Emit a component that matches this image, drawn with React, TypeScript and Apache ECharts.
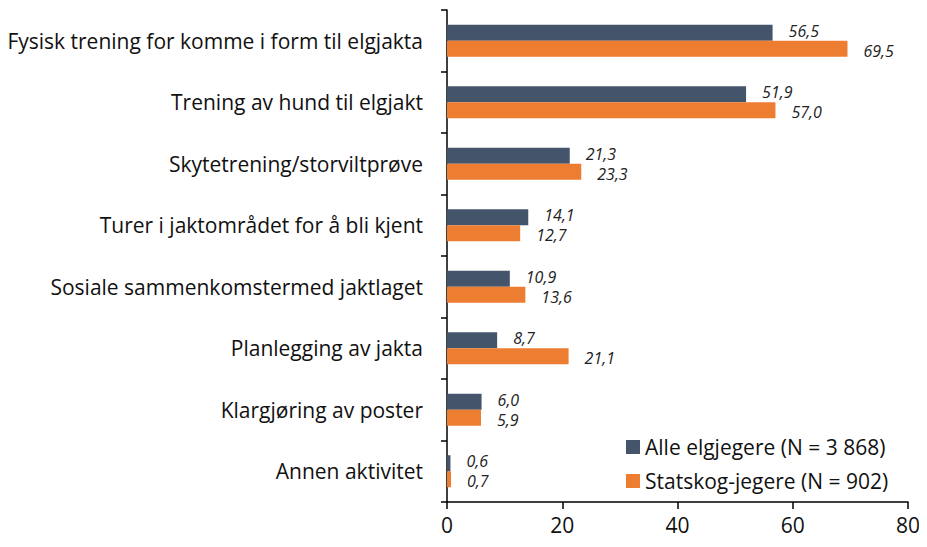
import React, { useEffect, useRef } from "react";
import * as echarts from "echarts";

const categories = [
  "Fysisk trening for komme i form til elgjakta",
  "Trening av hund til elgjakt",
  "Skytetrening/storviltprøve",
  "Turer i jaktområdet for å bli kjent",
  "Sosiale sammenkomstermed jaktlaget",
  "Planlegging av jakta",
  "Klargjøring av poster",
  "Annen aktivitet",
];
const alleValues = [56.5, 51.9, 21.3, 14.1, 10.9, 8.7, 6.0, 0.6];
const statskogValues = [69.5, 57.0, 23.3, 12.7, 13.6, 21.1, 5.9, 0.7];
const seriesNames = ["Alle elgjegere (N = 3 868)", "Statskog-jegere (N = 902)"];
const xTicks = [0, 20, 40, 60, 80];

const FONT = "'Open Sans', sans-serif";

export default function App() {
  const ref = useRef<HTMLDivElement>(null);
  useEffect(() => {
    if (!ref.current) return;
    const chart = echarts.init(ref.current, null, { renderer: "svg" });
    const makeLabel = (dy: number) => ({
      show: true,
      position: "right" as const,
      distance: 16,
      offset: [0, dy],
      fontStyle: "italic" as const,
      fontSize: 16,
      lineHeight: 14,
      color: "#222",
      fontFamily: FONT,
      formatter: (p: any) => Number(p.value).toFixed(1).replace(".", ","),
    });
    chart.setOption({
      animation: false,
      textStyle: { fontFamily: FONT },
      grid: { left: 447, right: 19, top: 10, bottom: 45, containLabel: false },
      legend: {
        orient: "vertical",
        left: 621,
        top: 431,
        itemWidth: 14,
        itemHeight: 14,
        itemGap: 12,
        icon: "rect",
        textStyle: { fontSize: 21, lineHeight: 22, color: "#111", fontFamily: FONT },
        data: seriesNames,
      },
      xAxis: {
        type: "value",
        min: xTicks[0],
        max: xTicks[xTicks.length - 1],
        interval: 20,
        splitLine: { show: false },
        axisLine: { show: true, lineStyle: { color: "#000", width: 1.5 } },
        axisTick: { show: true, length: 7, lineStyle: { color: "#000", width: 1.5 } },
        axisLabel: { fontSize: 21, color: "#111", margin: 12, fontFamily: FONT },
      },
      yAxis: {
        type: "category",
        inverse: true,
        data: categories,
        axisLine: { show: true, lineStyle: { color: "#000", width: 1.5 } },
        axisTick: { show: true, length: 6, lineStyle: { color: "#000", width: 1.5 } },
        axisLabel: { fontSize: 21, color: "#111", margin: 24, fontFamily: FONT },
      },
      series: [
        {
          name: seriesNames[0],
          type: "bar",
          data: alleValues,
          barWidth: 16,
          barGap: "0%",
          itemStyle: { color: "#44546A" },
          label: makeLabel(-2),
        },
        {
          name: seriesNames[1],
          type: "bar",
          data: statskogValues,
          barWidth: 16,
          barGap: "0%",
          itemStyle: { color: "#ED7D31" },
          label: makeLabel(2),
        },
      ],
    });
    return () => chart.dispose();
  }, []);
  return <div ref={ref} style={{ width: 927, height: 547, margin: -8 }} />;
}
